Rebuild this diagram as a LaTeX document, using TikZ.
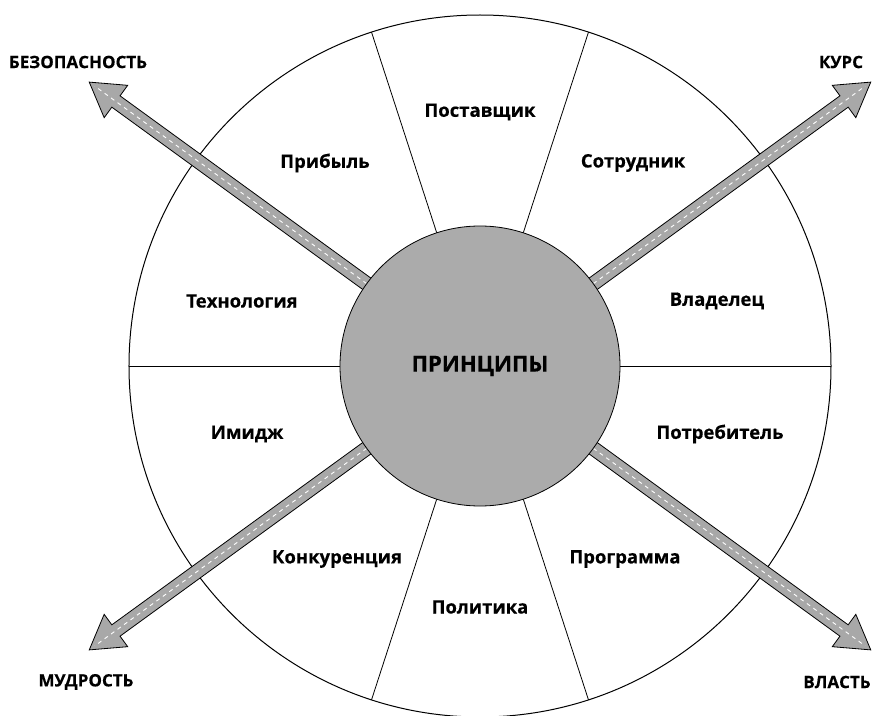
\documentclass[tikz,border=0pt]{standalone}
\usepackage{fontspec}
\setmainfont{Open Sans}[BoldFeatures={FakeBold=0.4}]
\definecolor{hubgray}{HTML}{ABABAB}
\definecolor{arrowgray}{HTML}{A8A8A8}
\tikzset{
  x=1pt,y=1pt,
  ring/.style={draw=black,line width=1pt},
  divider/.style={draw=black,line width=0.8pt},
  hub/.style={circle,draw=black,line width=0.8pt,fill=hubgray,minimum size=280pt,inner sep=0pt,font=\bfseries\fontsize{22}{26}\selectfont},
  seglabel/.style={font=\bfseries\fontsize{18.5}{21}\selectfont,inner sep=0pt},
  dirlabel/.style={font=\bfseries\fontsize{17}{19}\selectfont,inner sep=0pt},
  bigarrow/.style={draw=black,line width=0.8pt,fill=arrowgray,line join=miter},
  lane/.style={draw=white,line width=0.9pt,dash pattern=on 4pt off 4pt}
}
\newcommand{\roadarrow}[1]{%
  \begin{scope}[rotate=#1]
    \path[bigarrow] (100,-7) -- (450,-7) -- (450,-20) -- (483,0) -- (450,20) -- (450,7) -- (100,7) -- cycle;
    \path[lane] (100,0) -- (476,0);
  \end{scope}}
\begin{document}
\begin{tikzpicture}
  \useasboundingbox (-480,-349) rectangle (392,366);
  \coordinate (c) at (0,0);
  % outer ring
  \draw[ring] (c) circle (351);
  % dividers
  \foreach \a in {0,72,108,180,252,288}{
    \draw[divider] (\a:140) -- (\a:351);
  }
  % arrows
  \roadarrow{36}
  \roadarrow{144}
  \roadarrow{216}
  \roadarrow{324}
  % hub
  \node[hub] (hub) at (c) {ПРИНЦИПЫ};
  % sector labels
  \node[seglabel] (l1) at (237,65) {Владелец};
  \node[seglabel] (l2) at (153,203) {Сотрудник};
  \node[seglabel] (l3) at (0,254) {Поставщик};
  \node[seglabel] (l4) at (-155,203) {Прибыль};
  \node[seglabel] (l5) at (-238,65) {Технология};
  \node[seglabel] (l6) at (-233,-68) {Имидж};
  \node[seglabel] (l7) at (-143,-193) {Конкуренция};
  \node[seglabel] (l8) at (0,-241) {Политика};
  \node[seglabel] (l9) at (145,-193) {Программа};
  \node[seglabel] (l10) at (240,-68) {Потребитель};
  % direction labels
  \node[dirlabel] (d1) at (-402,304) {БЕЗОПАСНОСТЬ};
  \node[dirlabel] (d2) at (361,304) {КУРС};
  \node[dirlabel] (d3) at (-394,-316) {МУДРОСТЬ};
  \node[dirlabel] (d4) at (357,-316) {ВЛАСТЬ};
\end{tikzpicture}
\end{document}
